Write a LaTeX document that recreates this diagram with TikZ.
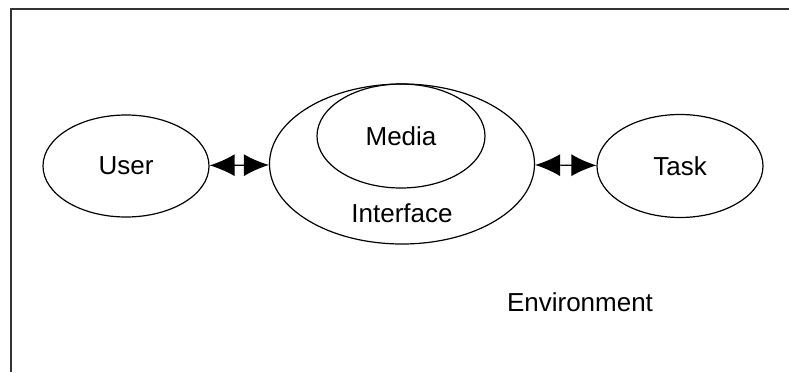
\documentclass[tikz,border=0pt]{standalone}
\usepackage{fontspec}
\setmainfont{Liberation Sans}
\usetikzlibrary{shapes.geometric,arrows.meta}
\tikzset{
  oval/.style={draw,ellipse,line width=.6pt,inner sep=0pt},
  lbl/.style={font=\fontsize{13}{15}\selectfont}
}
\begin{document}
\begin{tikzpicture}[x=.5pt,y=.5pt,>={Latex[length=12.5pt,width=11pt]}]
\def\FrX{11}
\def\FrY{363}
\useasboundingbox (0,0) rectangle (789,372);
% frame
\draw[line width=1pt,black!80]
  (\FrX,0) -- (\FrX,\FrY) -- (789,\FrY);
\node[oval,lbl,minimum width=83pt,minimum height=51pt] (user) at (126,206) {User};
\node[oval,minimum width=132.5pt,minimum height=80pt] (iface) at (402,208) {};
\node[oval,lbl,minimum width=84pt,minimum height=52pt] (media) at (401,236) {Media};
\node[lbl] (ifacetxt) at ([yshift=15.5pt]iface.south) {Interface};
\node[oval,lbl,minimum width=83pt,minimum height=51.5pt] (task) at (680,206) {Task};
\node[lbl] (env) at (580,70) {Environment};
\draw[<->,line width=.6pt] (user) -- (iface);
\draw[<->,line width=.6pt] (iface) -- (task);
\end{tikzpicture}
\end{document}
